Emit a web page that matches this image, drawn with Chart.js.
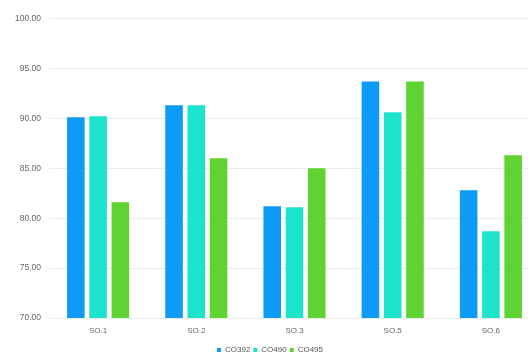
<!DOCTYPE html>
<html>
<head>
<meta charset="utf-8">
<script src="https://cdn.jsdelivr.net/npm/chart.js@4"></script>
<style>
  html, body { margin: 0; padding: 0; background: #fff; overflow: hidden; }
  #wrap { width: 528px; height: 355px; overflow: hidden; }
</style>
</head>
<body>
<div id="wrap"><canvas id="chart" width="544" height="364"></canvas></div>
<script>
const categories = ['SO.1', 'SO.2', 'SO.3', 'SO.5', 'SO.6'];
const co392 = [90.1, 91.3, 81.2, 93.7, 82.8];
const co490 = [90.2, 91.3, 81.1, 90.6, 78.7];
const co495 = [81.6, 86.0, 85.0, 93.7, 86.3];
const yTicks = [70, 75, 80, 85, 90, 95, 100];

const FONT = 'Liberation Sans, Arial, sans-serif';

const makeSet = (label, data, color) => ({
    label,
    data,
    backgroundColor: color,
    borderWidth: 0,
    categoryPercentage: 0.68,
    barPercentage: 0.79
});

new Chart(document.getElementById('chart'), {
    type: 'bar',
    data: {
        labels: categories,
        datasets: [
            makeSet('CO392', co392, '#0e9bf7'),
            makeSet('CO490', co490, '#1ce3cb'),
            makeSet('CO495', co495, '#5fd332')
        ]
    },
    options: {
        responsive: false,
        animation: false,
        layout: { padding: { top: 18.5, right: 4, left: 0, bottom: 0 } },
        scales: {
            x: {
                grid: { display: false, drawTicks: false },
                border: { display: false },
                ticks: {
                    color: '#666',
                    padding: 8,
                    font: { size: 8, family: FONT }
                },
                afterFit: (scale) => { scale.height = 17.6; }
            },
            y: {
                min: 70,
                max: 100,
                afterBuildTicks: (scale) => { scale.ticks = yTicks.map((v) => ({ value: v })); },
                grid: { color: '#ebebeb', drawTicks: false },
                border: { display: false },
                ticks: {
                    color: '#666',
                    padding: 8,
                    font: { size: 8.5, family: FONT },
                    callback: (value) => Number(value).toFixed(2)
                },
                afterFit: (scale) => { scale.width = 49; }
            }
        },
        plugins: {
            tooltip: { enabled: false },
            legend: {
                position: 'bottom',
                title: {
                    display: true,
                    text: ' ',
                    font: { size: 1 },
                    padding: { top: 6.2, bottom: 0 }
                },
                labels: {
                    boxWidth: 4,
                    boxHeight: 4,
                    padding: 3,
                    color: '#555',
                    font: { size: 8, family: FONT }
                }
            }
        }
    }
});
</script>
</body>
</html>
